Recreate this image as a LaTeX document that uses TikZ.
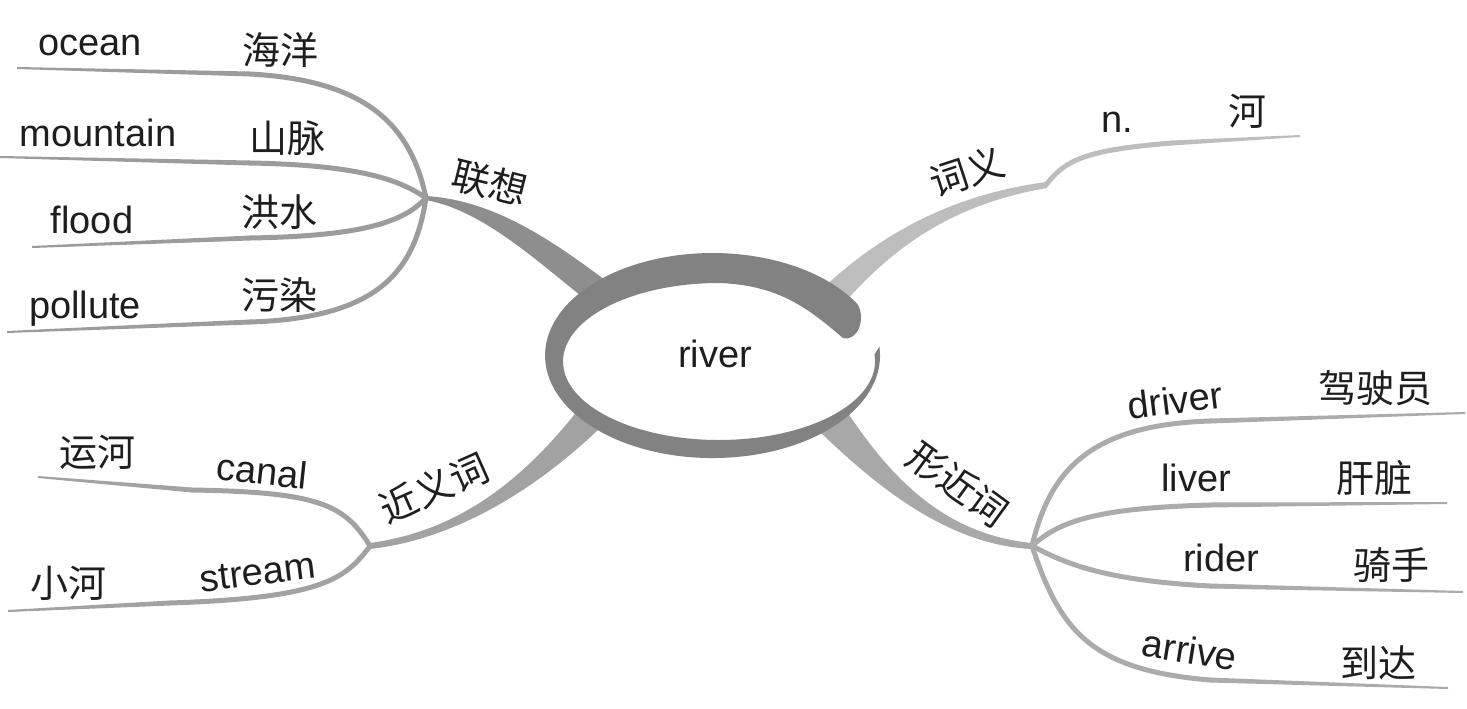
\documentclass[tikz,border=0pt]{standalone}
\usepackage{fontspec}
\setmainfont{Liberation Sans}
\newfontfamily\cjk{Noto Sans CJK SC}
\usetikzlibrary{calc}

\definecolor{ringgray}{HTML}{828282}
\definecolor{assocgray}{HTML}{8E8E8E}
\definecolor{meangray}{HTML}{BDBDBD}
\definecolor{syngray}{HTML}{A2A2A2}
\definecolor{simgray}{HTML}{A8A8A8}
\definecolor{leftgray}{HTML}{9C9C9C}
\definecolor{rightgray}{HTML}{ABABAB}
\definecolor{txt}{HTML}{1E1E1E}

% leaf: hub, control 1, control 2, step point, free end
\newcommand{\leaf}[5]{%
  \draw[line width=5pt, line cap=round] (#1) .. controls (#2) and (#3) .. (#4);
  \fill ($(#4)+(0,-2.5)$) -- ($(#5)+(0,-1)$) -- ($(#5)+(0,1)$) -- ($(#4)+(0,2.5)$) -- cycle;}

\begin{document}
\begin{tikzpicture}
  [x=1pt, y=-1pt,
   en/.style={font=\fontsize{38}{40}\selectfont, text=txt, inner sep=0pt},
   zh/.style={font=\cjk\fontsize{38}{40}\selectfont, text=txt, inner sep=0pt}]

  \useasboundingbox[fill=white] (0,0) rectangle (1467,709);

  % hubs
  \coordinate (assoc) at (426,198);
  \coordinate (mean)  at (1046,185);
  \coordinate (syn)   at (370,546);
  \coordinate (sim)   at (1032,546);

  % free ends of the leaves
  \coordinate (ocean-end)    at (17,68);
  \coordinate (mountain-end) at (0,157);
  \coordinate (flood-end)    at (32,247);
  \coordinate (pollute-end)  at (7,332);
  \coordinate (n-end)        at (1300,136);
  \coordinate (canal-end)    at (38,477);
  \coordinate (stream-end)   at (8,611);
  \coordinate (driver-end)   at (1465,413);
  \coordinate (liver-end)    at (1447,503);
  \coordinate (rider-end)    at (1463,592);
  \coordinate (arrive-end)   at (1448,688);

  % main branches
  \fill[assocgray] ($(assoc)+(0,-2)$) .. controls (490,200) and (545,235) .. (605,280)
    -- (580,295) .. controls (530,255) and (480,210) .. ($(assoc)+(0,2)$) -- cycle;
  \fill[meangray] (823,288) .. controls (880,235) and (950,195) .. ($(mean)+(0,-3)$)
    -- ($(mean)+(1,3)$) .. controls (960,203) and (900,240) .. (845,302) -- cycle;
  \fill[syngray] ($(syn)+(0,-3)$) .. controls (450,532) and (515,490) .. (578,410)
    -- (600,428) .. controls (530,495) and (450,540) .. ($(syn)+(0,3)$) -- cycle;
  \fill[simgray] (846,410) .. controls (895,485) and (950,535) .. ($(sim)+(0,-3)$)
    -- ($(sim)+(0,3)$) .. controls (950,545) and (880,490) .. (818,430) -- cycle;

  % leaves
  \begin{scope}[leftgray]
    \leaf{assoc}{410,120}{360,80}{250,74}{ocean-end}
    \leaf{assoc}{400,180}{360,165}{250,163}{mountain-end}
    \leaf{assoc}{405,220}{370,236}{250,238}{flood-end}
    \leaf{assoc}{415,270}{380,318}{250,322}{pollute-end}
  \end{scope}
  \begin{scope}[syngray]
    \leaf{syn}{345,505}{320,492}{192,490}{canal-end}
    \leaf{syn}{345,580}{320,598}{170,603}{stream-end}
  \end{scope}
  \begin{scope}[meangray]
    \leaf{mean}{1065,160}{1085,150}{1172,143}{n-end}
  \end{scope}
  \begin{scope}[rightgray]
    \leaf{sim}{1050,470}{1090,425}{1210,421}{driver-end}
    \leaf{sim}{1060,520}{1100,508}{1210,505}{liver-end}
    \leaf{sim}{1060,560}{1095,580}{1210,586}{rider-end}
    \leaf{sim}{1060,630}{1090,670}{1210,680}{arrive-end}
  \end{scope}

  % centre ring
  \fill[ringgray] (879.4,346.6)
    arc[start angle=-5, end angle=330, x radius=167.5, y radius=102.5]
    .. controls (866,318) and (858,342) .. (843,338)
    .. controls (810,310) and (780,285) .. (719,283)
    arc[start angle=270, end angle=-5, x radius=156, y radius=78.5] -- cycle;
  \node[en] (river) at (715,354) {river};

  % labels
  \node[zh, rotate=-14] (assoc-label) at (490,183) {联想};
  \node[en] (ocean)      at (90,45)   {ocean};
  \node[zh] (ocean-zh)   at (280,50)  {海洋};
  \node[en] (mountain)   at (98,133)  {mountain};
  \node[zh] (mountain-zh) at (287,138) {山脉};
  \node[en] (flood)      at (92,220)  {flood};
  \node[zh] (flood-zh)   at (279,212) {洪水};
  \node[en] (pollute)    at (85,309)  {pollute};
  \node[zh] (pollute-zh) at (279,295) {污染};

  \node[zh, rotate=18] (mean-label) at (967,172) {词义};
  \node[en] (n)    at (1117,122) {n.};
  \node[zh] (n-zh) at (1247,111) {河};

  \node[zh, rotate=24] (syn-label) at (434,488) {近义词};
  \node[zh] (canal-zh)  at (97,452)  {运河};
  \node[en, rotate=-6] (canal) at (262,471) {canal};
  \node[zh] (stream-zh) at (68,583)  {小河};
  \node[en, rotate=7] (stream) at (258,573) {stream};

  \node[zh, rotate=-36] (sim-label) at (958,484) {形近词};
  \node[en, rotate=7] (driver) at (1175,400) {driver};
  \node[zh] (driver-zh) at (1375,388) {驾驶员};
  \node[en] (liver)     at (1196,478) {liver};
  \node[zh] (liver-zh)  at (1374,478) {肝脏};
  \node[en] (rider)     at (1221,558) {rider};
  \node[zh] (rider-zh)  at (1391,565) {骑手};
  \node[en, rotate=-9] (arrive) at (1190,650) {arrive};
  \node[zh] (arrive-zh) at (1378,663) {到达};
\end{tikzpicture}
\end{document}
